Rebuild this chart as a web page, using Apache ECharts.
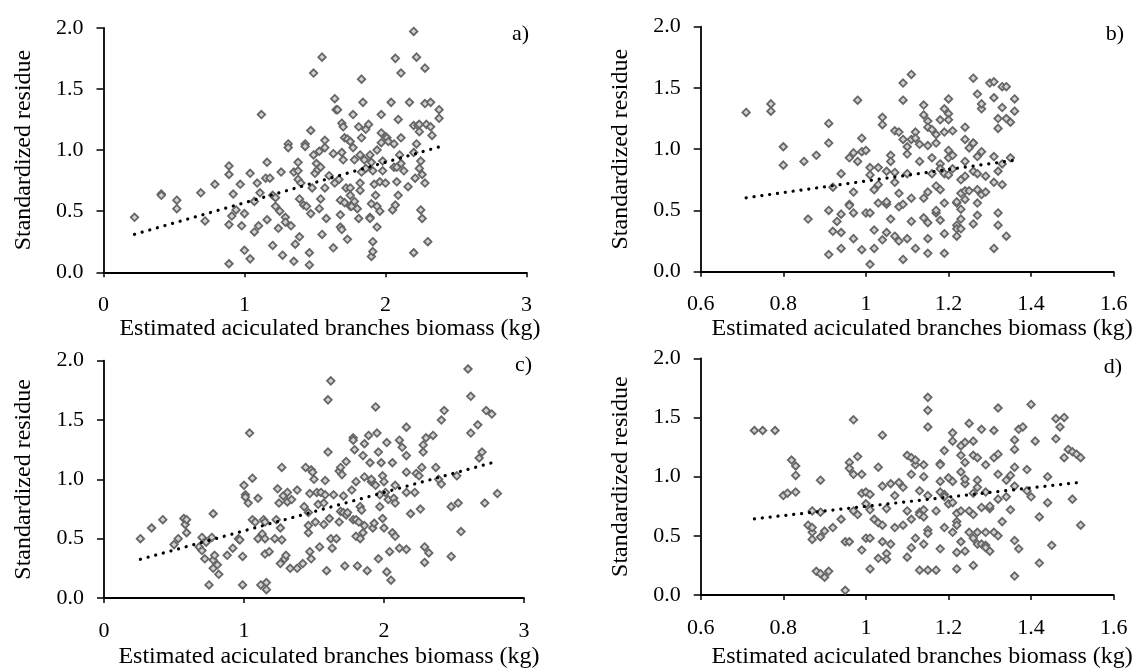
<!DOCTYPE html>
<html>
<head>
<meta charset="utf-8">
<script src="https://cdn.jsdelivr.net/npm/echarts@6/dist/echarts.min.js"></script>
<style>
  html, body { margin: 0; padding: 0; background: #fff; }
  #main { width: 1137px; height: 670px; }
</style>
</head>
<body>
<div id="main"></div>
<script>
// points, [estimated biomass, standardized residue]
var panelA = [[0.22,0.45],[0.41,0.64],[0.41,0.63],[0.52,0.59],[0.52,0.52],[0.69,0.65],[0.72,0.42],[0.79,0.72],[0.89,0.87],[0.89,0.80],[0.89,0.39],[0.89,0.07],[0.92,0.64],[0.91,0.46],[0.94,0.51],[0.97,0.72],[0.98,0.38],[1.00,0.48],[1.00,0.18],[1.04,0.81],[1.04,0.11],[1.07,0.58],[1.07,0.33],[1.09,0.73],[1.10,0.38],[1.12,1.29],[1.11,0.65],[1.15,0.77],[1.16,0.90],[1.16,0.43],[1.18,0.77],[1.20,0.63],[1.22,0.61],[1.22,0.54],[1.20,0.22],[1.24,0.36],[1.25,0.50],[1.26,0.82],[1.27,0.14],[1.29,0.45],[1.29,0.41],[1.31,1.05],[1.31,1.02],[1.33,0.38],[1.35,0.82],[1.35,0.09],[1.36,0.23],[1.38,0.90],[1.38,0.83],[1.38,0.76],[1.39,0.60],[1.39,0.29],[1.40,0.73],[1.42,0.55],[1.43,1.05],[1.43,1.03],[1.44,0.54],[1.46,0.06],[1.46,0.16],[1.47,0.48],[1.47,1.16],[1.48,0.69],[1.49,1.63],[1.49,0.96],[1.50,0.81],[1.51,0.89],[1.52,0.84],[1.53,0.52],[1.54,0.60],[1.54,0.86],[1.53,0.99],[1.55,1.76],[1.55,0.31],[1.57,1.08],[1.57,1.02],[1.57,0.69],[1.58,0.44],[1.60,0.79],[1.63,0.97],[1.63,0.20],[1.64,1.42],[1.65,1.33],[1.66,1.33],[1.64,0.73],[1.67,0.76],[1.68,0.47],[1.68,0.37],[1.69,0.35],[1.68,0.59],[1.69,1.22],[1.70,1.19],[1.69,0.98],[1.70,0.92],[1.71,1.10],[1.72,0.69],[1.71,0.57],[1.73,0.27],[1.73,1.09],[1.75,1.07],[1.75,0.69],[1.75,0.63],[1.75,0.54],[1.76,0.54],[1.77,1.02],[1.77,1.29],[1.78,0.92],[1.78,0.58],[1.80,0.52],[1.81,0.44],[1.81,1.19],[1.82,0.67],[1.82,0.73],[1.82,0.96],[1.83,1.10],[1.83,1.58],[1.83,0.82],[1.84,1.39],[1.85,0.92],[1.86,0.85],[1.86,1.17],[1.88,1.21],[1.89,0.96],[1.89,0.45],[1.89,0.44],[1.90,0.90],[1.90,0.56],[1.90,0.13],[1.91,0.17],[1.91,0.25],[1.91,0.83],[1.92,0.72],[1.93,0.63],[1.94,0.54],[1.94,1.00],[1.94,0.37],[1.96,0.50],[1.96,0.74],[1.97,1.29],[1.97,1.14],[1.97,1.06],[1.98,0.91],[1.98,0.83],[2.00,1.11],[2.00,0.73],[2.01,1.10],[2.02,1.07],[2.04,1.39],[2.05,0.51],[2.06,0.86],[2.06,1.05],[2.07,1.75],[2.07,0.55],[2.08,0.74],[2.08,0.86],[2.09,1.25],[2.09,0.63],[2.10,0.96],[2.11,0.89],[2.11,1.63],[2.11,1.10],[2.13,0.83],[2.16,0.70],[2.17,1.39],[2.20,0.16],[2.20,1.97],[2.20,1.20],[2.21,0.77],[2.22,1.76],[2.22,1.05],[2.23,1.20],[2.24,1.15],[2.24,0.85],[2.24,1.21],[2.25,0.91],[2.25,0.51],[2.26,0.44],[2.26,0.80],[2.28,1.38],[2.28,1.67],[2.28,0.73],[2.29,1.21],[2.30,0.25],[2.32,1.39],[2.32,1.19],[2.33,1.12],[2.38,1.33],[2.38,1.26],[2.20,0.98]];
var panelB = [[0.71,1.30],[0.77,1.37],[0.77,1.31],[0.80,1.02],[0.80,0.87],[0.85,0.90],[0.86,0.43],[0.88,0.95],[0.91,1.21],[0.91,1.05],[0.91,0.50],[0.91,0.14],[0.92,0.69],[0.92,0.33],[0.93,0.41],[0.94,0.80],[0.94,0.19],[0.94,0.47],[0.94,0.32],[0.96,0.93],[0.96,0.55],[0.96,0.54],[0.97,0.65],[0.97,0.48],[0.97,0.27],[0.97,0.97],[0.98,0.90],[0.98,1.40],[0.99,0.98],[0.99,0.18],[0.99,1.09],[1.00,0.99],[1.00,0.48],[1.01,0.48],[1.01,0.85],[1.01,0.06],[1.01,0.79],[1.02,0.67],[1.02,0.34],[1.02,0.19],[1.03,0.85],[1.03,0.56],[1.03,0.71],[1.04,0.26],[1.04,1.26],[1.04,1.20],[1.05,0.32],[1.05,0.55],[1.05,0.82],[1.05,0.57],[1.06,0.95],[1.06,0.90],[1.06,0.43],[1.07,0.81],[1.07,0.73],[1.07,0.29],[1.07,1.15],[1.08,1.14],[1.08,0.25],[1.08,0.64],[1.08,0.53],[1.09,0.55],[1.09,0.10],[1.09,1.40],[1.09,1.54],[1.09,1.08],[1.10,0.96],[1.10,1.02],[1.10,0.80],[1.10,0.27],[1.11,1.08],[1.11,0.41],[1.11,0.60],[1.11,1.61],[1.12,1.14],[1.12,1.09],[1.12,0.19],[1.13,1.04],[1.13,0.90],[1.14,0.60],[1.14,1.36],[1.14,0.44],[1.14,1.28],[1.15,0.27],[1.15,0.40],[1.15,0.15],[1.15,0.65],[1.15,1.23],[1.15,1.18],[1.15,1.03],[1.16,0.93],[1.16,0.80],[1.16,1.16],[1.17,0.48],[1.17,1.12],[1.17,0.70],[1.17,0.50],[1.17,1.05],[1.18,0.88],[1.18,0.42],[1.18,1.24],[1.18,0.84],[1.18,0.67],[1.19,0.80],[1.19,1.33],[1.19,0.31],[1.19,1.14],[1.19,0.56],[1.19,0.15],[1.20,1.41],[1.20,0.99],[1.20,0.93],[1.20,1.29],[1.20,0.79],[1.20,1.24],[1.21,0.84],[1.21,1.15],[1.21,0.95],[1.22,0.56],[1.22,0.38],[1.22,0.35],[1.22,0.29],[1.22,0.57],[1.23,0.75],[1.23,0.64],[1.23,0.51],[1.23,0.43],[1.23,0.35],[1.24,0.59],[1.24,1.08],[1.24,1.18],[1.24,0.90],[1.24,0.66],[1.24,0.78],[1.25,1.01],[1.25,0.66],[1.26,1.05],[1.26,1.58],[1.26,0.39],[1.26,1.05],[1.26,0.82],[1.27,0.56],[1.27,0.67],[1.27,0.46],[1.27,1.45],[1.27,0.80],[1.27,0.94],[1.28,1.33],[1.28,0.63],[1.28,0.98],[1.28,1.37],[1.29,0.78],[1.29,0.65],[1.30,1.54],[1.31,1.55],[1.31,0.19],[1.31,0.94],[1.31,0.73],[1.31,1.42],[1.32,1.25],[1.32,0.82],[1.32,1.17],[1.32,0.48],[1.32,0.38],[1.33,0.88],[1.33,0.71],[1.33,1.51],[1.33,1.34],[1.34,1.25],[1.34,0.29],[1.34,1.51],[1.35,1.22],[1.35,0.93],[1.36,1.41],[1.36,1.31]];
var panelC = [[0.26,0.50],[0.34,0.59],[0.42,0.66],[0.50,0.45],[0.53,0.50],[0.57,0.67],[0.58,0.62],[0.59,0.66],[0.59,0.55],[0.68,0.43],[0.70,0.51],[0.70,0.40],[0.72,0.33],[0.73,0.47],[0.75,0.11],[0.77,0.51],[0.78,0.71],[0.78,0.25],[0.78,0.32],[0.79,0.36],[0.81,0.28],[0.82,0.20],[0.88,0.36],[0.92,0.42],[0.96,0.50],[0.97,0.49],[0.99,0.35],[0.99,0.11],[1.00,0.95],[1.01,0.87],[1.01,0.85],[1.03,0.80],[1.04,1.39],[1.06,1.01],[1.06,0.66],[1.08,0.64],[1.10,0.84],[1.10,0.50],[1.12,0.11],[1.13,0.54],[1.14,0.66],[1.15,0.64],[1.15,0.37],[1.15,0.50],[1.16,0.13],[1.16,0.07],[1.18,0.39],[1.22,0.50],[1.23,0.66],[1.24,0.92],[1.25,0.80],[1.26,0.59],[1.26,0.29],[1.27,0.49],[1.27,1.10],[1.28,0.86],[1.29,0.33],[1.30,0.36],[1.31,0.89],[1.31,0.81],[1.33,0.25],[1.34,0.83],[1.38,0.91],[1.38,0.25],[1.42,0.29],[1.43,0.77],[1.44,1.10],[1.46,0.72],[1.46,0.55],[1.46,0.61],[1.47,0.39],[1.48,0.33],[1.47,0.88],[1.48,1.08],[1.49,1.06],[1.50,1.00],[1.51,0.64],[1.52,0.89],[1.53,0.79],[1.54,0.43],[1.55,0.89],[1.57,0.80],[1.57,0.62],[1.58,0.99],[1.58,0.87],[1.59,0.23],[1.60,1.23],[1.60,1.67],[1.62,1.83],[1.61,0.67],[1.62,0.50],[1.63,0.42],[1.64,0.87],[1.66,0.50],[1.68,1.07],[1.68,0.64],[1.69,0.73],[1.69,1.10],[1.70,1.04],[1.71,0.86],[1.71,0.72],[1.72,0.27],[1.73,1.15],[1.73,0.70],[1.74,0.72],[1.77,0.91],[1.78,1.35],[1.78,1.33],[1.78,0.66],[1.79,1.25],[1.80,0.98],[1.80,0.52],[1.80,0.66],[1.81,0.27],[1.82,0.64],[1.83,0.77],[1.83,0.50],[1.84,0.74],[1.85,0.55],[1.85,1.20],[1.86,1.30],[1.86,1.02],[1.86,0.61],[1.88,0.23],[1.89,1.37],[1.90,1.14],[1.91,0.98],[1.91,1.00],[1.92,0.59],[1.93,0.63],[1.94,1.61],[1.94,0.95],[1.95,1.39],[1.96,0.33],[1.96,1.23],[1.97,0.77],[1.97,0.87],[1.98,1.14],[1.99,1.03],[1.99,0.67],[2.00,0.98],[2.00,0.59],[2.01,0.89],[2.02,0.22],[2.02,1.31],[2.03,0.83],[2.04,0.39],[2.05,0.15],[2.06,1.14],[2.06,0.55],[2.07,0.84],[2.08,0.80],[2.08,0.52],[2.08,0.95],[2.11,0.42],[2.11,1.33],[2.13,1.27],[2.16,0.41],[2.16,1.44],[2.16,1.20],[2.16,1.06],[2.16,0.89],[2.19,0.71],[2.22,0.89],[2.23,1.05],[2.25,1.03],[2.26,0.75],[2.27,1.10],[2.28,1.29],[2.28,1.23],[2.29,0.43],[2.29,0.30],[2.30,1.35],[2.32,0.38],[2.35,1.37],[2.37,1.10],[2.39,1.00],[2.41,1.50],[2.41,0.96],[2.43,1.58],[2.48,0.77],[2.48,0.35],[2.52,1.03],[2.53,0.80],[2.55,0.56],[2.60,1.93],[2.62,1.70],[2.62,1.39],[2.67,1.46],[2.68,1.18],[2.70,1.23],[2.72,0.80],[2.73,1.58],[2.77,1.55],[2.81,0.88]];
var panelD = [[0.73,1.39],[0.75,1.39],[0.78,1.39],[0.80,0.84],[0.81,0.86],[0.82,1.14],[0.83,1.09],[0.83,1.01],[0.83,0.87],[0.86,0.59],[0.87,0.53],[0.87,0.57],[0.87,0.47],[0.87,0.71],[0.88,0.20],[0.89,0.97],[0.89,0.70],[0.89,0.49],[0.89,0.18],[0.90,0.54],[0.90,0.15],[0.91,0.20],[0.92,0.57],[0.94,0.64],[0.95,0.45],[0.95,0.04],[0.96,0.45],[0.96,1.12],[0.96,1.07],[0.97,1.02],[0.97,0.71],[0.97,1.48],[0.98,1.17],[0.98,0.68],[0.99,0.86],[0.99,0.38],[0.99,1.02],[1.00,0.48],[1.00,0.77],[1.00,0.87],[1.01,0.85],[1.01,0.22],[1.01,0.72],[1.01,0.48],[1.02,0.64],[1.03,0.61],[1.03,0.31],[1.03,1.08],[1.04,0.59],[1.04,0.45],[1.04,0.92],[1.04,1.35],[1.05,0.73],[1.05,0.35],[1.05,0.30],[1.06,0.94],[1.06,0.43],[1.07,0.84],[1.07,0.57],[1.08,0.95],[1.09,0.91],[1.09,0.59],[1.10,0.71],[1.10,1.18],[1.10,0.32],[1.11,0.40],[1.11,1.02],[1.11,0.64],[1.11,1.16],[1.12,1.10],[1.12,0.48],[1.12,1.14],[1.13,0.88],[1.13,0.21],[1.13,0.70],[1.13,0.68],[1.14,0.72],[1.14,0.43],[1.14,1.10],[1.14,0.66],[1.14,1.00],[1.15,0.55],[1.15,1.56],[1.15,0.52],[1.15,1.67],[1.15,1.42],[1.15,0.21],[1.15,0.84],[1.17,0.21],[1.17,0.71],[1.18,1.11],[1.18,0.87],[1.18,1.10],[1.18,0.96],[1.18,0.39],[1.19,1.22],[1.19,0.85],[1.19,0.57],[1.19,0.83],[1.20,0.77],[1.20,0.99],[1.21,1.30],[1.21,1.37],[1.21,0.96],[1.21,0.78],[1.21,0.53],[1.22,0.69],[1.22,0.22],[1.22,0.62],[1.22,0.36],[1.22,0.59],[1.23,1.18],[1.23,1.04],[1.23,1.26],[1.23,0.71],[1.23,0.45],[1.24,1.29],[1.24,0.37],[1.24,1.12],[1.24,0.94],[1.24,0.98],[1.25,0.53],[1.25,0.71],[1.25,1.45],[1.26,0.48],[1.26,0.86],[1.26,1.30],[1.26,0.25],[1.26,1.18],[1.26,0.68],[1.27,1.16],[1.27,0.97],[1.27,0.53],[1.27,0.43],[1.27,0.91],[1.28,0.43],[1.28,1.40],[1.28,0.74],[1.29,0.42],[1.29,0.53],[1.29,1.10],[1.29,0.40],[1.29,0.87],[1.30,0.73],[1.30,0.37],[1.30,0.75],[1.31,1.39],[1.31,1.16],[1.31,0.53],[1.32,1.19],[1.32,0.50],[1.32,1.02],[1.32,0.81],[1.32,1.58],[1.33,0.62],[1.34,0.83],[1.34,0.97],[1.35,1.01],[1.35,0.72],[1.36,1.08],[1.36,0.92],[1.36,1.23],[1.36,1.31],[1.36,0.46],[1.36,0.16],[1.37,1.40],[1.37,0.39],[1.38,1.42],[1.39,1.06],[1.39,0.88],[1.40,1.61],[1.40,0.83],[1.41,1.30],[1.42,0.66],[1.42,0.27],[1.44,1.00],[1.44,0.78],[1.45,0.42],[1.46,1.49],[1.46,1.32],[1.47,1.42],[1.48,1.16],[1.48,1.50],[1.49,1.23],[1.50,1.21],[1.50,0.81],[1.51,1.19],[1.52,1.16],[1.52,0.59]];

// linear trend lines as [intercept, slope]
var trendA = [0.238, 0.331];
var trendB = [0.268, 0.472];
var trendC = [0.242, 0.324];
var trendD = [0.358, 0.391];

var panelNames = ['a)', 'b)', 'c)', 'd)'];
var yTicks = [0, 2, 0.5];          // min, max, interval
var xTicksWide = [0, 3, 1];
var xTicksNarrow = [0.6, 1.6, 0.2];

var yTitle = 'Standardized residue';
var xTitle = 'Estimated aciculated branches biomass (kg)';

var FONT = '"Liberation Serif", "Times New Roman", serif';

var myChart = echarts.init(document.getElementById('main'));

var panels = [
    { data: panelA, trend: trendA, x: xTicksWide,   grid: { left: 103.5, top: 27.8,  width: 423, height: 244.5 }, nameGap: 43, lab: [529, 23] },
    { data: panelB, trend: trendB, x: xTicksNarrow, grid: { left: 700.7, top: 26.7,  width: 413, height: 245 },   nameGap: 43, lab: [1124, 23] },
    { data: panelC, trend: trendC, x: xTicksWide,   grid: { left: 104,   top: 360.7, width: 420, height: 238.6 }, nameGap: 47, lab: [532, 354] },
    { data: panelD, trend: trendD, x: xTicksNarrow, grid: { left: 700.7, top: 358.3, width: 413, height: 239.4 }, nameGap: 50, lab: [1122, 356] }
];

function trendLine(pts, coef) {
    var lo = Infinity, hi = -Infinity;
    for (var i in pts) {
        if (pts[i][0] < lo) lo = pts[i][0];
        if (pts[i][0] > hi) hi = pts[i][0];
    }
    return [[lo, coef[0] + coef[1] * lo], [hi, coef[0] + coef[1] * hi]];
}

var grids = [], xAxes = [], yAxes = [], series = [], texts = [];
for (var i = 0; i < panels.length; i++) {
    var p = panels[i];
    grids.push(p.grid);
    xAxes.push({
        gridIndex: i,
        type: 'value',
        min: p.x[0], max: p.x[1], interval: p.x[2],
        name: xTitle,
        nameLocation: 'middle',
        nameGap: p.nameGap,
        nameTextStyle: { fontFamily: FONT, fontSize: 24, color: '#000', padding: [0, 0, 0, 30] },
        axisLine: { lineStyle: { color: '#000', width: 1.8 } },
        axisTick: { length: 5, lineStyle: { color: '#000', width: 1.5 } },
        axisLabel: {
            margin: 22, fontFamily: FONT, fontSize: 22, color: '#000',
            formatter: function (v) { return String(+v.toFixed(1)); }
        },
        splitLine: { show: false }
    });
    yAxes.push({
        gridIndex: i,
        type: 'value',
        min: yTicks[0], max: yTicks[1], interval: yTicks[2],
        name: yTitle,
        nameLocation: 'middle',
        nameGap: 68,
        nameTextStyle: { fontFamily: FONT, fontSize: 24, color: '#000' },
        axisLine: { show: true, lineStyle: { color: '#000', width: 1.8 } },
        axisTick: { show: true, length: 7, lineStyle: { color: '#000', width: 1.5 } },
        axisLabel: {
            margin: 20, fontFamily: FONT, fontSize: 22, color: '#000',
            formatter: function (v) { return v.toFixed(1); }
        },
        splitLine: { show: false }
    });
    series.push({
        type: 'scatter',
        xAxisIndex: i, yAxisIndex: i,
        symbol: 'diamond',
        symbolSize: 7.5,
        itemStyle: { color: '#d2d2d2', borderColor: '#666', borderWidth: 1.8, opacity: 1 },
        data: p.data,
        silent: true,
        z: 2
    });
    series.push({
        type: 'line',
        xAxisIndex: i, yAxisIndex: i,
        data: trendLine(p.data, p.trend),
        symbol: 'none',
        lineStyle: { color: '#000', width: 3.2, type: [0.1, 7.8], cap: 'round' },
        silent: true,
        z: 3
    });
    texts.push({
        type: 'text',
        x: p.lab[0], y: p.lab[1],
        style: {
            text: panelNames[i],
            font: '22px ' + FONT,
            fill: '#000',
            textAlign: 'right',
            textVerticalAlign: 'top'
        }
    });
}

option = {
    backgroundColor: '#fff',
    animation: false,
    grid: grids,
    xAxis: xAxes,
    yAxis: yAxes,
    series: series,
    graphic: texts
};
myChart.setOption(option);
</script>
</body>
</html>
